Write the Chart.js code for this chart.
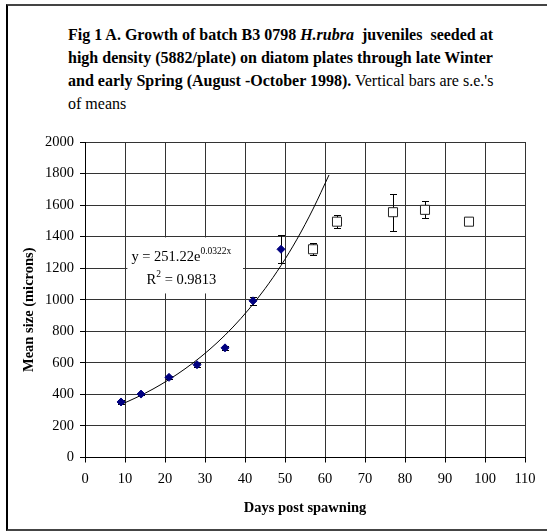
<!DOCTYPE html>
<html><head><meta charset="utf-8">
<script src="https://cdn.jsdelivr.net/npm/chart.js@4.4.1/dist/chart.umd.min.js"></script>
<style>
html,body{margin:0;padding:0;background:#fff;}
#wrap{position:relative;width:547px;height:532px;overflow:hidden;background:#fff;}
#frame{position:absolute;left:6px;top:4px;width:560px;height:527px;border-left:2px solid #000;border-top:2px solid #444;border-bottom:2px solid #444;box-sizing:border-box}
#title{position:absolute;left:68px;top:23px;font-family:"Liberation Serif","Times New Roman",Times,"DejaVu Serif",serif;font-size:16px;line-height:23px;color:#000;white-space:nowrap}
canvas{position:absolute;left:0;top:0}
</style></head>
<body><div id="wrap"><div id="frame"></div>
<div id="title"><b>Fig 1 A. Growth of batch B3 0798 <i>H.rubra</i>&nbsp; juveniles&nbsp; seeded at</b><br><b>high density (5882/plate) on diatom plates through late Winter</b><br><b>and early Spring (August -October 1998).</b> Vertical bars are s.e.'s<br>of means</div>
<canvas id="c" width="547" height="532"></canvas></div>
<script>
// Days post spawning and mean size (microns), with s.e. of means
const earlyDays  = [9, 14, 21, 28, 35, 42, 49];
const earlyMeans = [352, 402, 508, 588, 695, 993, 1320];
const earlySE    = [10, 8, 10, 12, 12, 25, 90];

const lateDays  = [57, 63, 77, 85, 96];
const lateMeans = [1320, 1495, 1555, 1570, 1495];
const lateSE    = [37, 40, 118, 54, 0];

// exponential trendline as drawn
const trendDays  = [9, 13, 17, 21, 25, 29, 33, 37, 41, 45, 49, 53, 57, 61];
const trendSizes = [336, 382, 434, 494, 562, 639, 727, 827, 941, 1070, 1217, 1384, 1575, 1791];

const xTitle = 'Days post spawning';
const yTitle = 'Mean size (microns)';
const eqLine1 = 'y = 251.22e';
const eqSup1 = '0.0322x';
const eqLine2a = 'R';
const eqSup2 = '2';
const eqLine2b = ' = 0.9813';

const FONT = '"Liberation Serif", "Times New Roman", Times, "DejaVu Serif", serif';

const toPts = (xs, ys) => xs.map((v, i) => ({x: v, y: ys[i]}));

const eqBox = {
  id: 'eqBox',
  beforeDatasetsDraw(chart) {
    const {ctx, scales: {x, y}} = chart;
    ctx.save();
    const l = x.getPixelForValue(10.6), r = x.getPixelForValue(39.5);
    const t = y.getPixelForValue(1395), b = y.getPixelForValue(1040);
    ctx.fillStyle = '#fff';
    ctx.fillRect(l, t, r - l, b - t);
    ctx.fillStyle = '#000';
    ctx.textBaseline = 'alphabetic';
    ctx.font = '14.5px ' + FONT;
    let px = x.getPixelForValue(11.6), py = y.getPixelForValue(1245);
    ctx.fillText(eqLine1, px, py);
    let w = ctx.measureText(eqLine1).width;
    ctx.font = '9.5px ' + FONT;
    ctx.fillText(eqSup1, px + w, py - 7);
    ctx.font = '14.5px ' + FONT;
    px = x.getPixelForValue(15.4); py = y.getPixelForValue(1100);
    ctx.fillText(eqLine2a, px, py);
    w = ctx.measureText(eqLine2a).width;
    ctx.font = '9.5px ' + FONT;
    ctx.fillText(eqSup2, px + w, py - 7);
    const w2 = ctx.measureText(eqSup2).width;
    ctx.font = '14.5px ' + FONT;
    ctx.fillText(eqLine2b, px + w + w2, py);
    ctx.restore();
  }
};

const errorBars = {
  id: 'errorBars',
  beforeDatasetsDraw(chart) {
    const {ctx, scales: {x, y}} = chart;
    ctx.save();
    ctx.strokeStyle = '#000';
    ctx.lineWidth = 1;
    [[earlyDays, earlyMeans, earlySE], [lateDays, lateMeans, lateSE]].forEach(([d, m, e]) => {
      d.forEach((dx, i) => {
        if (!e[i]) return;
        const px = Math.round(x.getPixelForValue(dx)) + 0.5;
        const t = Math.round(y.getPixelForValue(m[i] + e[i])) + 0.5;
        const b = Math.round(y.getPixelForValue(m[i] - e[i])) + 0.5;
        ctx.beginPath();
        ctx.moveTo(px, t); ctx.lineTo(px, b);
        ctx.moveTo(px - 3.5, t); ctx.lineTo(px + 3.5, t);
        ctx.moveTo(px - 3.5, b); ctx.lineTo(px + 3.5, b);
        ctx.stroke();
      });
    });
    ctx.restore();
  }
};

const yTitlePlugin = {
  id: 'yTitlePlugin',
  afterDraw(chart) {
    const {ctx, chartArea} = chart;
    ctx.save();
    ctx.font = 'bold 14.5px ' + FONT;
    ctx.fillStyle = '#000';
    ctx.textAlign = 'center';
    ctx.textBaseline = 'middle';
    ctx.translate(29, (chartArea.top + chartArea.bottom) / 2 + 10);
    ctx.rotate(-Math.PI / 2);
    ctx.fillText(yTitle, 0, 0);
    ctx.restore();
  }
};

new Chart(document.getElementById('c'), {
  type: 'scatter',
  data: {
    datasets: [
      {
        data: toPts(trendDays, trendSizes), showLine: true, borderColor: '#000', borderWidth: 1,
        pointRadius: 0, cubicInterpolationMode: 'monotone', fill: false, order: 3
      },
      {
        data: toPts(earlyDays, earlyMeans), pointStyle: 'rectRot', pointRadius: 4,
        backgroundColor: '#000080', borderColor: '#000080', borderWidth: 1, order: 1
      },
      {
        data: toPts(lateDays, lateMeans), pointStyle: 'rect', pointRadius: 6.4,
        backgroundColor: '#fff', borderColor: '#222', borderWidth: 1, order: 2
      }
    ]
  },
  options: {
    responsive: false, animation: false, devicePixelRatio: 1,
    layout: {padding: {top: 142, right: 22, bottom: 0, left: 0}},
    plugins: {legend: {display: false}, tooltip: {enabled: false}, title: {display: false}},
    scales: {
      x: {
        type: 'linear', min: 0, max: 110,
        afterFit(s) { s.height = 74.5; s.paddingLeft = 0; s.paddingRight = 0; },
        ticks: {stepSize: 10, color: '#000', font: {family: FONT, size: 14.5}, padding: 8, maxRotation: 0,
                callback: v => String(v)},
        grid: {color: '#333', lineWidth: 1, tickLength: 5, tickColor: '#000'},
        border: {display: true, color: '#000', width: 1},
        title: {display: true, text: xTitle, color: '#000',
                font: {family: FONT, size: 14.5, weight: 'bold'}, padding: {top: 0, bottom: 15}}
      },
      y: {
        type: 'linear', min: 0, max: 2000,
        afterFit(s) { s.width = 85; s.paddingTop = 0; s.paddingBottom = 0; },
        ticks: {stepSize: 200, color: '#000', font: {family: FONT, size: 14.5}, padding: 6,
                callback: v => String(v)},
        grid: {color: '#333', lineWidth: 1, tickLength: 5, tickColor: '#000'},
        border: {display: true, color: '#000', width: 1},
        title: {display: false}
      }
    }
  },
  plugins: [eqBox, errorBars, yTitlePlugin]
});
</script>
</body></html>
